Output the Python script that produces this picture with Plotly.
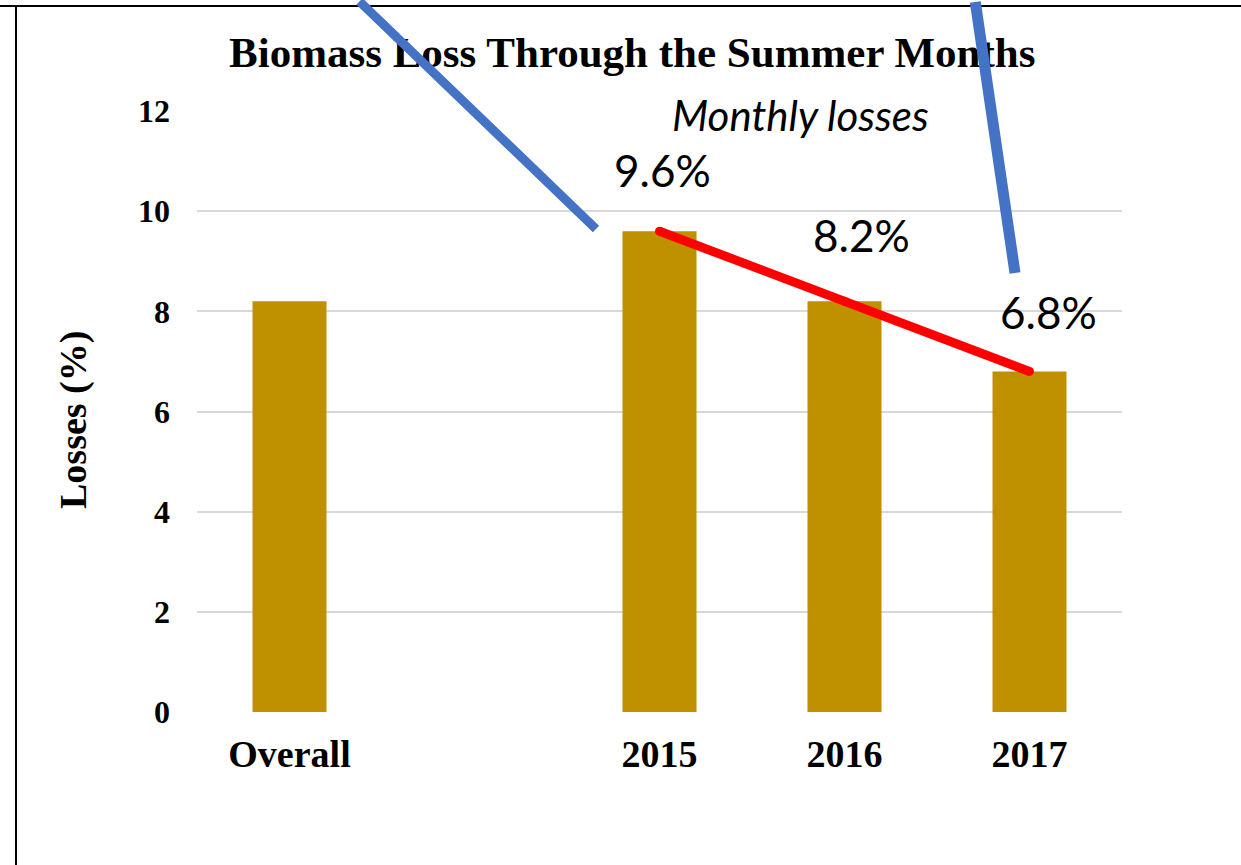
import plotly.graph_objects as go

# ---- data ----
categories = ["Overall", " ", "2015", "2016", "2017"]
losses = [8.2, None, 9.6, 8.2, 6.8]
trend_categories = ["2015", "2016", "2017"]
trend_values = [9.6, 8.2, 6.8]
y_ticks = [0, 2, 4, 6, 8, 10, 12]

W, H = 1241, 865
L, R, T, B = 197, 119, 111, 153
PW, PH = W - L - R, H - T - B


def px(x):
    return (x - L) / PW


def py(y):
    return (H - B - y) / PH


fig = go.Figure()
fig.add_trace(go.Bar(
    x=categories, y=losses, width=0.4,
    marker=dict(color="#BF9000", line=dict(width=0)),
    showlegend=False, hoverinfo="skip",
))
fig.add_trace(go.Scatter(
    x=trend_categories, y=trend_values, mode="lines+markers",
    line=dict(color="#FF0000", width=9),
    marker=dict(color="#FF0000", size=9),
    showlegend=False, hoverinfo="skip",
))

annotations = []
# title
annotations.append(dict(
    text="<b>Biomass Loss Through the Summer Months</b>",
    xref="paper", yref="paper", x=px(632), y=py(52),
    xanchor="center", yanchor="middle", showarrow=False,
    font=dict(family="Liberation Serif, Times New Roman, serif", size=43, color="black"),
))
# y axis title
annotations.append(dict(
    text="<b>Losses (%)</b>", textangle=-90,
    xref="paper", yref="paper", x=px(73), y=py(420),
    xanchor="center", yanchor="middle", showarrow=False,
    font=dict(family="Liberation Serif, Times New Roman, serif", size=38, color="black"),
))
# Monthly losses
annotations.append(dict(
    text="<i>Monthly losses</i>",
    xref="paper", yref="paper", x=px(800), y=py(115),
    xanchor="center", yanchor="middle", showarrow=False,
    font=dict(family="Lato, Carlito, sans-serif", size=42, color="black"),
))
# value labels
label_shifts = [(3, 61), (17, 66), (19, 59)]
for cat, val, (dx, dy) in zip(trend_categories, trend_values, label_shifts):
    annotations.append(dict(
        text=f"{val}%", xref="x", yref="y", x=categories.index(cat), y=val,
        xshift=dx, yshift=dy, xanchor="center", yanchor="middle",
        showarrow=False,
        font=dict(family="Lato, Carlito, sans-serif", size=44, color="black"),
    ))

# blue hand-drawn strokes (drawn over the title, as in the original)
blue_strokes = [((596, 229), (358, -20), 9), ((1015, 273), (975, -20), 11)]
for (x1, y1), (x0, y0), w in blue_strokes:
    annotations.append(dict(
        text=" ", xref="paper", yref="paper", x=px(x1), y=py(y1),
        axref="pixel", ayref="pixel", ax=x0 - x1, ay=y0 - y1,
        showarrow=True, arrowhead=0, arrowwidth=w, arrowcolor="#4472C4",
        standoff=0, startstandoff=0, font=dict(size=1),
    ))

shapes = [
    # frame lines
    dict(type="line", xref="paper", yref="paper",
         x0=px(0), x1=px(W), y0=py(6), y1=py(6),
         line=dict(color="black", width=2)),
    dict(type="line", xref="paper", yref="paper",
         x0=px(16), x1=px(16), y0=py(6), y1=py(H + 5),
         line=dict(color="black", width=2)),
]

fig.update_layout(
    width=W, height=H,
    margin=dict(l=L, r=R, t=T, b=B),
    paper_bgcolor="white", plot_bgcolor="white",
    annotations=annotations, shapes=shapes,
    bargap=0.6,
    xaxis=dict(
        type="category", categoryorder="array", categoryarray=categories,
        range=[-0.5, 4.5], showgrid=False, zeroline=False, showline=False,
        ticks="", ticklabelstandoff=16,
        tickfont=dict(family="Liberation Serif, Times New Roman, serif", size=38, color="black", weight="bold"),
    ),
    yaxis=dict(
        range=[0, 12], tickvals=y_ticks, ticktext=[str(v) for v in y_ticks],
        showgrid=True, gridcolor="#D9D9D9", gridwidth=1.5,
        zeroline=False, showline=False, ticks="", ticklabelstandoff=26,
        tickfont=dict(family="Liberation Serif, Times New Roman, serif", size=32, color="black", weight="bold"),
    ),
)

fig.write_html(
    "out.html",
    config={"displayModeBar": False},
    post_script="document.body.style.margin='0';document.body.style.overflow='hidden';",
)
